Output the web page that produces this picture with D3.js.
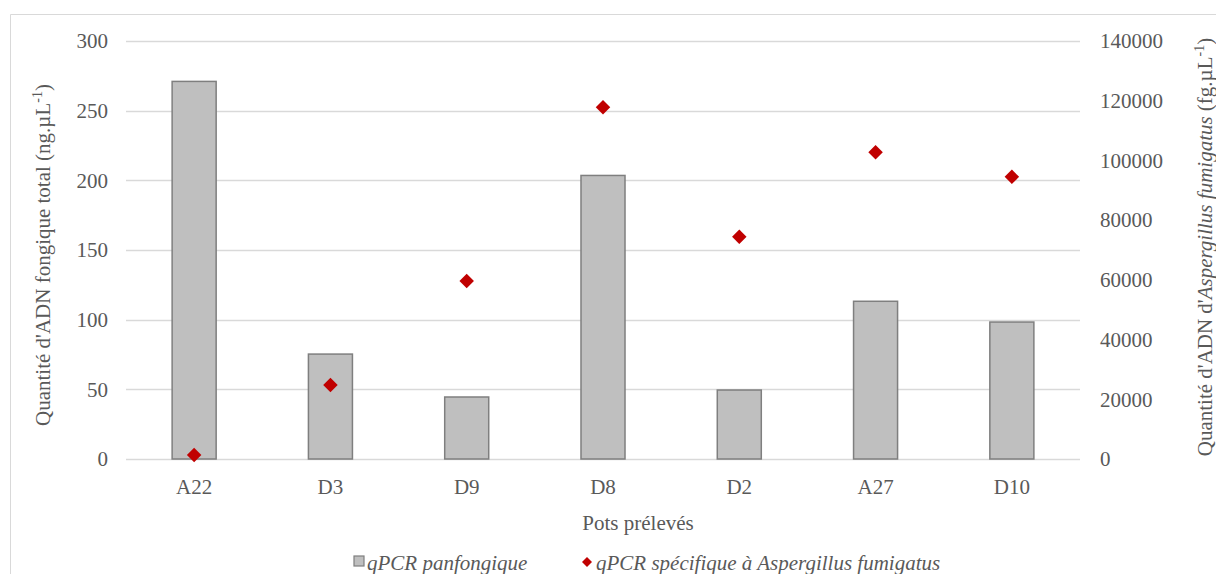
<!DOCTYPE html>
<html><head><meta charset="utf-8">
<script src="https://cdn.jsdelivr.net/npm/d3@7"></script>
<style>body{margin:0;background:#fff}svg{display:block}</style>
</head><body><svg id="c" width="1216" height="574"></svg>
<script>
const categories = ["A22","D3","D9","D8","D2","A27","D10"];
const panfongique = [271, 75.3, 44.5, 203.5, 49.5, 113.2, 98.3];
const aspergillus = [1300, 24800, 59600, 117800, 74400, 102700, 94500];
const leftTicks = [0,50,100,150,200,250,300];
const rightTicks = [0,20000,40000,60000,80000,100000,120000,140000];

const FONT = '"Liberation Serif"';
const FS = "21px";
const svg = d3.select("#c");
const L = 126, R = 1080, T = 41, B = 459;
// frame
svg.append("path").attr("d","M10.5,574 L10.5,14.5 L1216,14.5").attr("fill","none").attr("stroke","#d9d9d9").attr("stroke-width",1);

const x = d3.scaleBand().domain(categories).range([L,R]).paddingInner(0.677).paddingOuter(0.3385);
const yL = d3.scaleLinear().domain([0,300]).range([B,T]);
const yR = d3.scaleLinear().domain([0,140000]).range([B,T]);

// gridlines
svg.append("g").selectAll("line").data(leftTicks).join("line")
  .attr("x1",L).attr("x2",R).attr("y1",d=>Math.round(yL(d))+0.5).attr("y2",d=>Math.round(yL(d))+0.5)
  .attr("stroke","#d9d9d9").attr("stroke-width",1.5);

function styleText(sel){ sel.style("font-family",FONT).attr("font-size",FS).attr("fill","#595959"); }

const gl = svg.append("g").attr("transform",`translate(${L-18},0)`)
  .call(d3.axisLeft(yL).tickValues(leftTicks).tickSize(0).tickPadding(0));
gl.select(".domain").remove();
gl.attr("font-family",null).attr("font-size",null);
gl.selectAll("text").call(styleText);

const gr = svg.append("g").attr("transform",`translate(${R+20},0)`)
  .call(d3.axisRight(yR).tickValues(rightTicks).tickSize(0).tickPadding(0).tickFormat(d3.format("d")));
gr.select(".domain").remove();
gr.attr("font-family",null).attr("font-size",null);
gr.selectAll("text").call(styleText);

// bars
svg.append("g").selectAll("rect").data(categories).join("rect")
  .attr("x",d=>x(d)).attr("width",x.bandwidth())
  .attr("y",(d,i)=>yL(panfongique[i])).attr("height",(d,i)=>B-yL(panfongique[i]))
  .attr("fill","#bfbfbf").attr("stroke","#7f7f7f").attr("stroke-width",1.5);

// diamonds
const sym = d3.symbol().type(d3.symbolSquare).size(105);
svg.append("g").selectAll("path").data(categories).join("path")
  .attr("d",sym)
  .attr("transform",(d,i)=>`translate(${x(d)+x.bandwidth()/2},${yR(aspergillus[i])}) rotate(45)`)
  .attr("fill","#c00000");

// x labels
const gx = svg.append("g").attr("transform",`translate(0,${B+16})`)
  .call(d3.axisBottom(x).tickSize(0).tickPadding(4));
gx.select(".domain").remove();
gx.attr("font-family",null).attr("font-size",null);
gx.selectAll("text").call(styleText);

svg.append("text").attr("x",638).attr("y",530).attr("text-anchor","middle").call(styleText).text("Pots prélevés");

// left title
const lt = svg.append("text").attr("transform","translate(50,255) rotate(-90)").attr("text-anchor","middle").call(styleText);
lt.append("tspan").text("Quantité d'ADN fongique total (ng.µL");
lt.append("tspan").attr("font-size","14px").attr("dy","-8").text("-1");
lt.append("tspan").attr("dy","8").text(")");

// right title
const rt = svg.append("text").attr("transform","translate(1212,247) rotate(-90)").attr("text-anchor","middle").call(styleText);
rt.append("tspan").text("Quantité d'ADN d'");
rt.append("tspan").attr("font-style","italic").text("Aspergillus fumigatus");
rt.append("tspan").text(" (fg.µL");
rt.append("tspan").attr("font-size","14px").attr("dy","-8").text("-1");
rt.append("tspan").attr("dy","8").text(")");

// legend
const lg = svg.append("g");
lg.append("rect").attr("x",354).attr("y",556).attr("width",10).attr("height",10).attr("fill","#bfbfbf").attr("stroke","#7f7f7f").attr("stroke-width",1.2);
lg.append("text").attr("x",367).attr("y",570).call(styleText).attr("font-style","italic").text("qPCR panfongique");
lg.append("path").attr("d",d3.symbol().type(d3.symbolSquare).size(50)).attr("transform","translate(587,562) rotate(45)").attr("fill","#c00000");
lg.append("text").attr("x",596).attr("y",570).call(styleText).attr("font-style","italic").text("qPCR spécifique à Aspergillus fumigatus");
</script></body></html>
